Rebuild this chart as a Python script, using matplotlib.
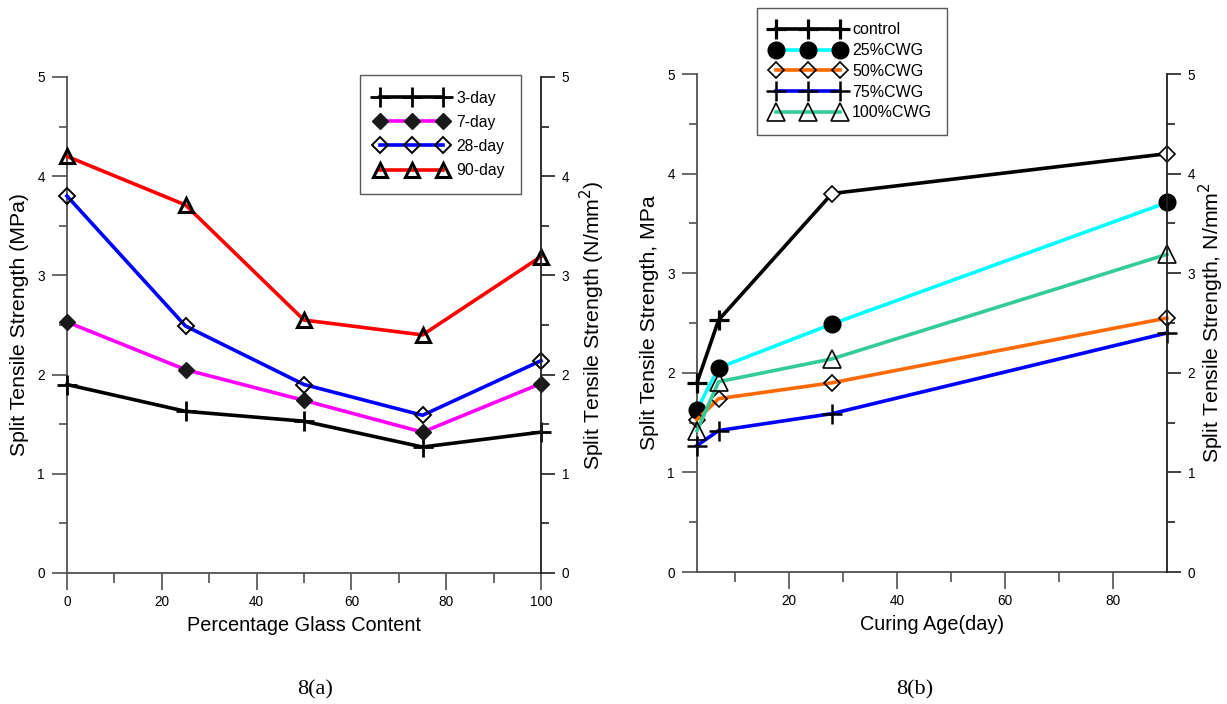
import matplotlib
matplotlib.use("Agg")
import matplotlib.pyplot as plt
from matplotlib.ticker import MultipleLocator, FixedLocator

plt.rcParams['font.family'] = ['Liberation Sans', 'DejaVu Sans']

# Split tensile strength (MPa) by glass content, one list per curing age
glass_content = [0, 25, 50, 75, 100]
day3 = [1.90, 1.63, 1.53, 1.27, 1.42]
day7 = [2.53, 2.05, 1.74, 1.42, 1.91]
day28 = [3.80, 2.49, 1.90, 1.59, 2.14]
day90 = [4.20, 3.71, 2.55, 2.40, 3.19]
age_labels = ["3-day", "7-day", "28-day", "90-day"]

curing_age = [3, 7, 28, 90]
mix_labels = ["control", "25%CWG", "50%CWG", "75%CWG", "100%CWG"]

AX_GRAY = '#505050'
TICK_FS = 9.8
XLABEL_FS = 14.3
YLABEL_FS = 15.3


def style_axes(ax, ax2):
    ax.spines['top'].set_visible(False)
    ax2.spines['top'].set_visible(False)
    ax2.spines['left'].set_visible(False)
    ax2.spines['bottom'].set_visible(False)
    ax.spines['right'].set_visible(False)
    for sp in ['left', 'bottom']:
        ax.spines[sp].set_color(AX_GRAY)
        ax.spines[sp].set_linewidth(1.3)
    ax2.spines['right'].set_color('#202020')
    ax2.spines['right'].set_linewidth(1.3)
    ax.set_ylim(0, 5)
    ax2.set_ylim(0, 5)
    for a in (ax, ax2):
        a.yaxis.set_major_locator(MultipleLocator(1))
        a.yaxis.set_minor_locator(MultipleLocator(0.5))
    ax.tick_params(axis='y', which='major', direction='out', length=11,
                   width=1.2, color=AX_GRAY, labelsize=TICK_FS, pad=5)
    ax.tick_params(axis='y', which='minor', direction='out', length=6,
                   width=1.2, color=AX_GRAY)
    ax.tick_params(axis='x', which='major', direction='out', length=12,
                   width=1.2, color=AX_GRAY, labelsize=TICK_FS, pad=4)
    ax.tick_params(axis='x', which='minor', direction='out', length=7,
                   width=1.2, color=AX_GRAY)
    ax2.tick_params(axis='y', which='major', direction='out', length=10,
                    width=1.2, color='#202020', labelsize=TICK_FS, pad=5)
    ax2.tick_params(axis='y', which='minor', direction='out', length=6,
                    width=1.2, color='#202020')


def make_legend(ax, handles, labels, x_px, y_px, fs, spacing, tpad, bpad):
    leg = ax.legend(handles, labels, loc='upper left',
                    bbox_to_anchor=(x_px / 1227, 1 - y_px / 704),
                    bbox_transform=fig.transFigure,
                    numpoints=3, handlelength=4.6, fontsize=fs, frameon=True,
                    fancybox=False, edgecolor='#303030', borderpad=bpad,
                    labelspacing=spacing, handletextpad=tpad, borderaxespad=0)
    leg.get_frame().set_linewidth(1.0)
    return leg


fig = plt.figure(figsize=(12.27, 7.04), dpi=100)

# ---------- 8(a): strength vs glass content ----------
axa = fig.add_axes([67 / 1227, 1 - 573 / 704, (541 - 67) / 1227, (573 - 77) / 704])
axa2 = axa.twinx()
style_axes(axa, axa2)
axa.set_xlim(0, 100)
axa.xaxis.set_major_locator(MultipleLocator(20))
axa.xaxis.set_minor_locator(MultipleLocator(10))

lw = 2.6
series_a = [
    (day3, dict(color='black', marker='+', ms=14, mew=2.0, mec='black')),
    (day7, dict(color='#ff00ff', marker='D', ms=8.5, mfc='#1a1a1a', mec='#1a1a1a', mew=1)),
    (day28, dict(color='#0000ff', marker='D', ms=8, mfc='none', mec='black', mew=1.4)),
    (day90, dict(color='#ff0000', marker='^', ms=10.5, mfc='none', mec='black', mew=2.2)),
]
handles_a = []
for vals, kw in series_a:
    h, = axa.plot(glass_content, vals, lw=lw, clip_on=False, zorder=3, **kw)
    handles_a.append(h)

axa.set_xlabel("Percentage Glass Content", fontsize=XLABEL_FS, labelpad=5)
axa.set_ylabel("Split Tensile Strength (MPa)", fontsize=YLABEL_FS, labelpad=6)
axa2.set_ylabel("Split Tensile Strength (N/mm$^2$)", fontsize=YLABEL_FS, labelpad=6)

make_legend(axa, handles_a, age_labels, 360, 75, 11.3, 0.58, 0.55, 1.0)

# ---------- 8(b): strength vs curing age ----------
axb = fig.add_axes([697 / 1227, 1 - 572 / 704, (1167 - 697) / 1227, (572 - 74) / 704])
axb2 = axb.twinx()
style_axes(axb, axb2)
axb.set_xlim(3, 90)
axb.xaxis.set_major_locator(FixedLocator([20, 40, 60, 80]))
axb.xaxis.set_minor_locator(FixedLocator([10, 30, 50, 70]))

by_age = [day3, day7, day28, day90]
mix_vals = [[col[i] for col in by_age] for i in range(len(glass_content))]

series_b = [
    dict(color='black', marker='+', ms=15, mew=2.3, mec='black'),
    dict(color='#00ffff', marker='o', ms=12, mfc='black', mec='black', mew=1),
    dict(color='#ff6a00', marker='D', ms=8, mfc='none', mec='black', mew=1.2),
    dict(color='#0000ff', marker='+', ms=15, mew=1.8, mec='black'),
    dict(color='#33cc99', marker='^', ms=12.5, mfc='none', mec='black', mew=1.2),
]
handles_b = []
for i, (vals, kw) in enumerate(zip(mix_vals, series_b)):
    if i == 0:
        h, = axb.plot(curing_age, vals, lw=lw, clip_on=False, zorder=3,
                      markevery=[0, 1], **kw)
        # later ages of the control mix carry open diamonds
        axb.plot(curing_age[2:], vals[2:], ls='none', marker='D', ms=8,
                 mfc='white', mec='black', mew=1.2, clip_on=False, zorder=4)
    else:
        h, = axb.plot(curing_age, vals, lw=lw, clip_on=False, zorder=3, **kw)
    handles_b.append(h)

axb.set_xlabel("Curing Age(day)", fontsize=XLABEL_FS, labelpad=5)
axb.set_ylabel("Split Tensile Strength, MPa", fontsize=YLABEL_FS, labelpad=6)
axb2.set_ylabel("Split Tensile Strength, N/mm$^2$", fontsize=YLABEL_FS, labelpad=1)

make_legend(axb, handles_b, mix_labels, 757, 8, 11.5, 0.36, 0.45, 0.9)

# panel captions
fig.text(315 / 1227, 1 - 690 / 704, "8(a)", family=['Liberation Serif', 'DejaVu Serif'],
         fontsize=16, ha='center', va='center')
fig.text(915 / 1227, 1 - 690 / 704, "8(b)", family=['Liberation Serif', 'DejaVu Serif'],
         fontsize=16, ha='center', va='center')

fig.savefig("out.png", dpi=100)
